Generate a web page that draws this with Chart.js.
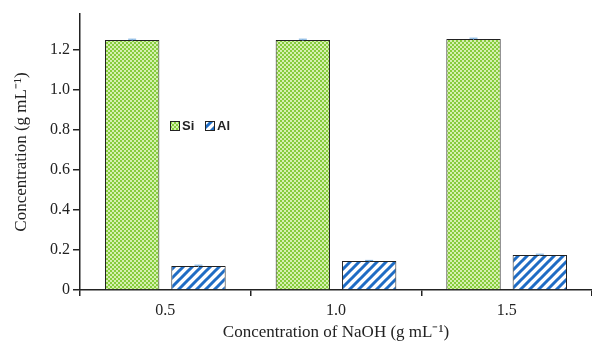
<!DOCTYPE html>
<html>
<head>
<meta charset="utf-8">
<script src="https://cdn.jsdelivr.net/npm/chart.js@4"></script>
<style>
  html, body { margin: 0; padding: 0; background: #fff; }
  #wrap { width: 592px; height: 343px; overflow: hidden; }
</style>
</head>
<body>
<div id="wrap"><canvas id="naohChart" width="592" height="343"></canvas></div>
<script>
const categories = ["0.5", "1.0", "1.5"];
const siValues = [1.25, 1.25, 1.255];
const alValues = [0.12, 0.145, 0.175];
const siErrors = [0.004, 0.004, 0.004];
const alErrors = [0.004, 0.003, 0.004];
const yTicks = [0, 0.2, 0.4, 0.6, 0.8, 1.0, 1.2];

function checkerPattern(ctx) {
    const c = document.createElement("canvas");
    c.width = 4; c.height = 4;
    const g = c.getContext("2d");
    g.fillStyle = "#d6f0b0";
    g.fillRect(0, 0, 4, 4);
    g.fillStyle = "#86cc3c";
    g.fillRect(0, 0, 2, 2);
    g.fillRect(2, 2, 2, 2);
    return ctx.createPattern(c, "repeat");
}

function stripePattern(ctx) {
    const c = document.createElement("canvas");
    c.width = 9; c.height = 9;
    const g = c.getContext("2d");
    g.fillStyle = "#ffffff";
    g.fillRect(0, 0, 9, 9);
    g.strokeStyle = "#1f6cc4";
    g.lineWidth = 3;
    g.beginPath();
    g.moveTo(-2, 11); g.lineTo(11, -2);
    g.moveTo(-2, 2); g.lineTo(2, -2);
    g.moveTo(7, 11); g.lineTo(11, 7);
    g.stroke();
    return ctx.createPattern(c, "repeat");
}

const ctx = document.getElementById("naohChart").getContext("2d");
const siFill = checkerPattern(ctx);
const alFill = stripePattern(ctx);

// small error caps on top of each bar
const errorBars = {
    id: "errorBars",
    afterDatasetsDraw(chart) {
        const y = chart.scales.y;
        const c = chart.ctx;
        const errs = [siErrors, alErrors];
        c.save();
        c.strokeStyle = "#6fa8dc";
        c.lineWidth = 1;
        chart.data.datasets.forEach(function (ds, i) {
            chart.getDatasetMeta(i).data.forEach(function (bar, j) {
                const v = ds.data[j];
                const top = y.getPixelForValue(v + errs[i][j]);
                const bot = y.getPixelForValue(v - errs[i][j]);
                c.beginPath();
                c.moveTo(bar.x, top); c.lineTo(bar.x, bot);
                c.moveTo(bar.x - 4, top); c.lineTo(bar.x + 4, top);
                c.stroke();
            });
        });
        c.restore();
    }
};

// legend placed inside the plot area
const insideLegend = {
    id: "insideLegend",
    afterDraw(chart) {
        const c = chart.ctx;
        const items = [
            { label: "Si", fill: siFill, x: 170 },
            { label: "Al", fill: alFill, x: 205 }
        ];
        c.save();
        c.font = "bold 13px 'Liberation Sans', Arial, sans-serif";
        c.textBaseline = "middle";
        items.forEach(function (it) {
            c.fillStyle = it.fill;
            c.fillRect(it.x, 121, 9, 9);
            c.strokeStyle = "#222";
            c.lineWidth = 1;
            c.strokeRect(it.x + 0.5, 121.5, 9, 9);
            c.fillStyle = "#222";
            c.fillText(it.label, it.x + 12, 126);
        });
        c.restore();
    }
};

const serif = "'Liberation Serif', 'Times New Roman', serif";

new Chart(ctx, {
    type: "bar",
    data: {
        labels: categories,
        datasets: [
            {
                label: "Si",
                data: siValues,
                backgroundColor: siFill,
                borderColor: "#222",
                borderWidth: 1,
                categoryPercentage: 0.777,
                barPercentage: 0.82
            },
            {
                label: "Al",
                data: alValues,
                backgroundColor: alFill,
                borderColor: "#222",
                borderWidth: 1,
                categoryPercentage: 0.777,
                barPercentage: 0.82
            }
        ]
    },
    options: {
        responsive: false,
        animation: false,
        layout: { padding: { top: 14, right: -5, left: 0, bottom: 0 } },
        plugins: {
            legend: { display: false },
            tooltip: { enabled: false }
        },
        scales: {
            x: {
                grid: {
                    display: true,
                    drawOnChartArea: false,
                    drawTicks: true,
                    tickLength: 6,
                    color: "#222",
                    lineWidth: 1.5
                },
                border: { display: true, color: "#222", width: 1.5 },
                ticks: {
                    color: "#222",
                    padding: 5,
                    font: { family: serif, size: 16 }
                },
                title: {
                    display: true,
                    text: "Concentration of NaOH (g mL⁻¹)",
                    color: "#222",
                    padding: { top: 0, bottom: 0 },
                    font: { family: serif, size: 17 }
                },
                afterFit(scale) { scale.height = 53; }
            },
            y: {
                min: 0,
                max: 1.38,
                afterBuildTicks(scale) {
                    scale.ticks = yTicks.map(function (v) { return { value: v }; });
                },
                grid: {
                    display: true,
                    drawOnChartArea: false,
                    drawTicks: true,
                    tickLength: 7,
                    color: "#222",
                    lineWidth: 1.5
                },
                border: { display: true, color: "#222", width: 1.5 },
                ticks: {
                    color: "#222",
                    padding: 3,
                    font: { family: serif, size: 16 },
                    callback: function (v) { return v === 0 ? "0" : v.toFixed(1); }
                },
                title: {
                    display: true,
                    text: "Concentration (g mL⁻¹)",
                    color: "#222",
                    padding: { top: 11, bottom: 0 },
                    font: { family: serif, size: 17 }
                },
                afterFit(scale) { scale.width = 80; }
            }
        }
    },
    plugins: [errorBars, insideLegend]
});
</script>
</body>
</html>
